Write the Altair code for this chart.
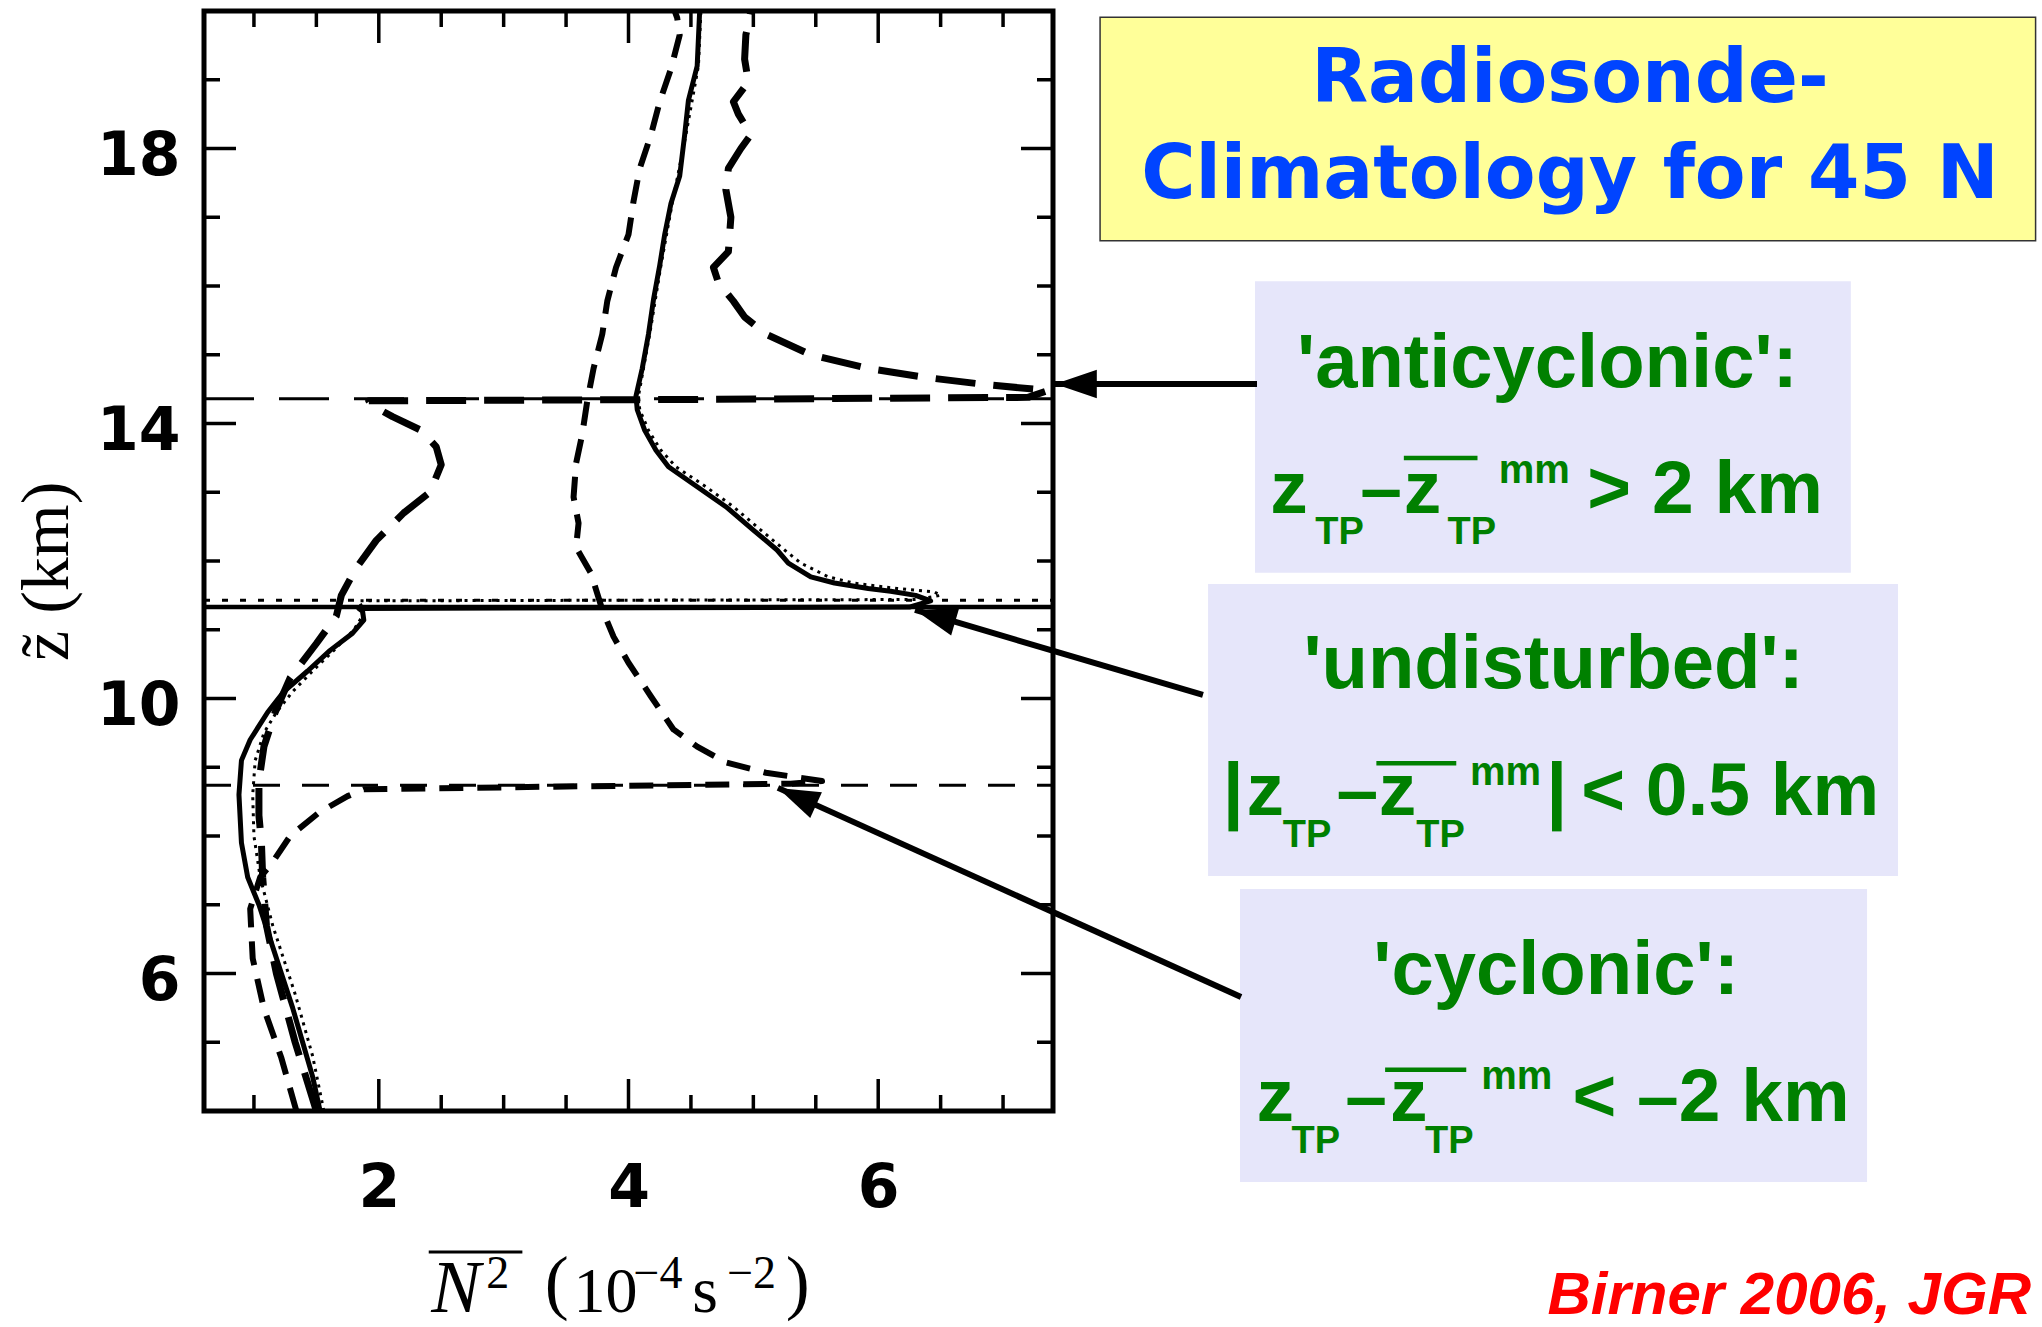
import altair as alt
import pandas as pd

# ---------------- profile data (z in km, N^2 in 1e-4 s^-2) ----------------
solid_z = [4.0, 4.5, 5.0, 5.5, 6.0, 6.5, 7.0, 7.4, 7.9, 8.6, 9.1, 9.4, 9.8, 10.1, 10.4, 10.7,
           10.95, 11.14, 11.27, 11.31, 11.33, 11.42, 11.5, 11.56, 11.6, 11.68, 11.77, 11.97,
           12.16, 12.45, 12.79, 13.08, 13.37, 13.61, 13.9, 14.2, 14.4, 14.8, 15.3, 15.8, 16.3,
           16.75, 17.2, 17.6, 18.2, 18.7, 19.2, 20.0]
solid_n = [1.53, 1.47, 1.39, 1.31, 1.22, 1.13, 1.04, 0.95, 0.90, 0.88, 0.90, 0.97, 1.11, 1.24,
           1.43, 1.61, 1.79, 1.88, 1.87, 1.84, 6.25, 6.42, 6.3, 6.1, 5.92, 5.65, 5.46, 5.28,
           5.19, 5.0, 4.78, 4.55, 4.32, 4.22, 4.13, 4.07, 4.06, 4.11, 4.16, 4.2, 4.25, 4.29,
           4.34, 4.41, 4.45, 4.48, 4.55, 4.57]

dotted_z = [4.0, 4.8, 5.7, 6.7, 7.4, 8.0, 8.6, 9.1, 9.5, 9.8, 10.1, 10.4, 10.7, 11.0, 11.2,
            11.35, 11.42, 11.44, 11.5, 11.55, 11.6, 11.68, 11.77, 11.97, 12.16, 12.45, 12.79,
            13.08, 13.37, 13.61, 13.9, 14.2, 14.4, 14.8, 15.3, 16.3, 17.2, 18.2, 19.2, 20.0]
dotted_n = [1.56, 1.47, 1.33, 1.15, 1.05, 1.0, 0.99, 1.01, 1.08, 1.18, 1.31, 1.47, 1.64, 1.8,
            1.87, 1.86, 1.84, 6.3, 6.5, 6.45, 6.15, 5.8, 5.6, 5.38, 5.25, 5.06, 4.84, 4.62,
            4.38, 4.26, 4.16, 4.09, 4.08, 4.12, 4.17, 4.26, 4.35, 4.46, 4.56, 4.58]

anti_z = [4.0, 5.0, 6.0, 6.7, 7.4, 7.9, 8.3, 8.8, 9.3, 9.8, 10.3, 10.8, 11.2, 11.5, 11.9, 12.3,
          12.7, 13.0, 13.4, 13.66, 13.9, 14.1, 14.26, 14.33, 14.35, 14.38, 14.48, 14.57, 14.67,
          14.8, 15.0, 15.3, 15.55, 15.78, 16.05, 16.27, 16.5, 17.0, 17.4, 17.71, 18.0, 18.2,
          18.5, 18.68, 18.97, 19.3, 19.65, 20.0]
anti_n = [1.5, 1.33, 1.18, 1.1, 1.07, 1.06, 1.04, 1.04, 1.08, 1.17, 1.29, 1.5, 1.66, 1.7, 1.82,
          1.98, 2.2, 2.41, 2.5, 2.46, 2.34, 2.11, 1.95, 1.92, 4.5, 7.2, 7.36, 6.84, 6.38, 5.92,
          5.46, 5.1, 4.93, 4.84, 4.72, 4.68, 4.8, 4.82, 4.78, 4.8, 4.9, 4.98, 4.88, 4.84, 4.96,
          4.93, 4.94, 4.98]

cyc_z = [4.0, 4.77, 5.49, 6.22, 6.94, 7.4, 7.62, 8.0, 8.34, 8.58, 8.68, 8.72, 8.76, 8.8, 8.92,
         9.07, 9.3, 9.55, 10.03, 10.52, 10.9, 11.29, 11.82, 12.2, 12.55, 12.93, 13.42, 13.85,
         14.33, 14.8, 15.3, 15.78, 16.27, 16.75, 17.23, 17.71, 18.2, 18.68, 19.16, 19.65,
         19.9, 20.0]
cyc_n = [1.34, 1.22, 1.08, 0.99, 0.97, 1.05, 1.15, 1.29, 1.52, 1.75, 1.88, 3.5, 5.3, 5.55, 5.1,
         4.78, 4.55, 4.36, 4.18, 4.0, 3.88, 3.79, 3.7, 3.58, 3.6, 3.56, 3.58, 3.63, 3.67, 3.72,
         3.79, 3.83, 3.9, 4.0, 4.04, 4.09, 4.18, 4.25, 4.34, 4.41, 4.39, 4.37]

# tropopause heights of the composites (km)
tp_solid = [11.33]
tp_dotted = [11.43]
tp_anti = [14.36]
tp_cyc = [8.74]

x_major = [2, 4, 6]
x_minor = [1.0, 1.5, 2.5, 3.0, 3.5, 4.5, 5.0, 5.5, 6.5, 7.0]
y_major = [6, 10, 14, 18]
y_minor = [5, 7, 8, 9, 11, 12, 13, 15, 16, 17, 19]

# ---------------- layout ----------------
W, H = 849, 1100
xs = alt.Scale(domain=[0.6, 7.4], nice=False, zero=False)
ys = alt.Scale(domain=[4, 20], nice=False, zero=False)

x_axis = alt.Axis(values=x_major, format="d", labelFont="DejaVu Sans", labelFontWeight="bold",
                  labelFontSize=60, labelColor="black", labelPadding=48, ticks=False, tickSize=0,
                  domain=False, grid=False, labelFlush=False, labelOverlap=False)
y_axis = alt.Axis(values=y_major, format="d", labelFont="DejaVu Sans", labelFontWeight="bold",
                  labelFontSize=60, labelColor="black", labelPadding=24, labelOffset=8,
                  ticks=False, tickSize=0, domain=False, grid=False, labelFlush=False,
                  labelOverlap=False)


def X(field):
    return alt.X(field, type="quantitative", scale=xs, axis=x_axis, title=None)


def Y(field):
    return alt.Y(field, type="quantitative", scale=ys, axis=y_axis, title=None)


def curve(z, n, width, dash=None):
    df = pd.DataFrame({"z": z, "n": n, "i": list(range(len(z)))})
    kw = dict(color="black", strokeWidth=width, strokeCap="butt", strokeJoin="round")
    if dash:
        kw["strokeDash"] = dash
    return alt.Chart(df).mark_line(**kw).encode(x=X("n"), y=Y("z"), order=alt.Order("i:Q"))


def hline(z, width, dash=None):
    kw = dict(color="black", strokeWidth=width)
    if dash:
        kw["strokeDash"] = dash
    return alt.Chart(pd.DataFrame({"z": z})).mark_rule(**kw).encode(
        y=Y("z"), x=alt.value(0), x2=alt.value(W))


layers = []
layers.append(curve(solid_z, solid_n, 5))
layers.append(curve(anti_z, anti_n, 7, [40, 18]))
layers.append(curve(cyc_z, cyc_n, 6, [24, 14]))
layers.append(curve(dotted_z, dotted_n, 3, [3, 5]))
layers.append(hline(tp_solid, 4.5))
layers.append(hline(tp_dotted, 3, [6, 12]))
layers.append(hline(tp_anti, 3, [50, 25]))
layers.append(hline(tp_cyc, 3, [27, 22]))

# ticks (inside, all four sides)
for vals, ln in ((x_minor, 16), (x_major, 32)):
    d = pd.DataFrame({"n": vals})
    layers.append(alt.Chart(d).mark_rule(color="black", strokeWidth=3.5).encode(
        x=X("n"), y=alt.value(H), y2=alt.value(H - ln)))
    layers.append(alt.Chart(d).mark_rule(color="black", strokeWidth=3.5).encode(
        x=X("n"), y=alt.value(0), y2=alt.value(ln)))
for vals, ln in ((y_minor, 16), (y_major, 32)):
    d = pd.DataFrame({"z": vals})
    layers.append(alt.Chart(d).mark_rule(color="black", strokeWidth=3.5).encode(
        y=Y("z"), x=alt.value(0), x2=alt.value(ln)))
    layers.append(alt.Chart(d).mark_rule(color="black", strokeWidth=3.5).encode(
        y=Y("z"), x=alt.value(W), x2=alt.value(W - ln)))

# ---------------- annotations (positions in data units, outside the axes) ----------------
title_box = pd.DataFrame({"n": [7.777], "n2": [15.27], "z": [19.91], "z2": [16.66]})
layers.append(alt.Chart(title_box).mark_rect(fill="#ffff99", stroke="#333333", strokeWidth=1.5).encode(
    x=X("n"), x2="n2", y=Y("z"), y2="z2"))
boxes = pd.DataFrame({"n": [9.018, 8.642, 8.898], "n2": [13.79, 14.168, 13.92],
                      "z": [16.07, 11.666, 7.23], "z2": [11.83, 7.418, 2.968]})
layers.append(alt.Chart(boxes).mark_rect(fill="#e6e6fa").encode(
    x=X("n"), x2="n2", y=Y("z"), y2="z2"))

title_txt = pd.DataFrame({"t": ["Radiosonde-", "Climatology for 45 N"], "n": [11.54, 11.54],
                          "z": [18.68, 17.28]})
layers.append(alt.Chart(title_txt).mark_text(font="DejaVu Sans", fontWeight="bold", fontSize=74,
                                             color="#0044ff", align="center", baseline="alphabetic").encode(
    x=X("n"), y=Y("z"), text="t:N"))

heads = pd.DataFrame({"t": ["'anticyclonic':", "'undisturbed':", "'cyclonic':"],
                      "n": [11.36, 11.41, 11.43], "z": [14.53, 10.15, 5.70]})
layers.append(alt.Chart(heads).mark_text(font="Liberation Sans", fontWeight="bold", fontSize=76,
                                         color="#008000", align="center", baseline="alphabetic").encode(
    x=X("n"), y=Y("z"), text="t:N"))

pieces = pd.DataFrame([
    ("z", 9.14, 12.70, 75), ("TP", 9.50, 12.25, 38), ("\u2013", 9.86, 12.70, 75),
    ("z", 10.21, 12.70, 75), ("TP", 10.56, 12.25, 38), ("mm", 10.97, 13.13, 40),
    ("> 2 km", 11.68, 12.70, 75),
    ("|", 8.76, 8.31, 75), ("z", 8.95, 8.31, 75), ("TP", 9.24, 7.84, 38),
    ("\u2013", 9.67, 8.31, 75), ("z", 10.01, 8.31, 75), ("TP", 10.31, 7.84, 38),
    ("mm", 10.74, 8.74, 40), ("|", 11.35, 8.31, 75), ("< 0.5 km", 11.63, 8.31, 75),
    ("z", 9.03, 3.855, 75), ("TP", 9.31, 3.39, 38), ("\u2013", 9.74, 3.855, 75),
    ("z", 10.10, 3.855, 75), ("TP", 10.38, 3.39, 38), ("mm", 10.83, 4.32, 40),
    ("< \u20132 km", 11.56, 3.855, 75),
], columns=["t", "n", "z", "fs"])
layers.append(alt.Chart(pieces).mark_text(font="Liberation Sans", fontWeight="bold", color="#008000",
                                          align="left", baseline="alphabetic").encode(
    x=X("n"), y=Y("z"), text="t:N", size=alt.Size("fs:Q", scale=None, legend=None)))

overlines = pd.DataFrame({"n": [10.21, 9.99, 10.06], "n2": [10.80, 10.63, 10.71],
                          "z": [13.50, 9.06, 4.60]})
layers.append(alt.Chart(overlines).mark_rule(color="#008000", strokeWidth=4.5).encode(
    x=X("n"), x2="n2", y=Y("z")))

# arrows
arrows = pd.DataFrame({"n": [9.034, 8.601, 8.906], "z": [14.575, 10.051, 5.659],
                       "n2": [7.416, 6.295, 5.197], "z2": [14.575, 11.288, 8.70],
                       "ang": [0.0, 16.4, 24.3]})
layers.append(alt.Chart(arrows).mark_rule(color="black", strokeWidth=6).encode(
    x=X("n"), y=Y("z"), x2="n2", y2="z2"))
layers.append(alt.Chart(arrows).mark_point(shape="M0,0L1,-0.34L1,0.34Z", filled=True, color="black",
                                           opacity=1, size=7000, strokeWidth=0).encode(
    x=X("n2"), y=Y("z2"), angle=alt.Angle("ang:Q", scale=None)))

# axis titles
xt = pd.DataFrame([("(", 3.33, 1.16, 72), ("10", 3.56, 1.08, 64), ("\u22124", 4.04, 1.43, 46),
                   ("s", 4.51, 1.08, 66), ("\u22122", 4.79, 1.43, 46), (")", 5.26, 1.16, 72),
                   ("2", 2.86, 1.43, 46)], columns=["t", "n", "z", "fs"])
layers.append(alt.Chart(xt).mark_text(font="Liberation Serif", color="black", align="left",
                                      baseline="alphabetic").encode(
    x=X("n"), y=Y("z"), text="t:N", size=alt.Size("fs:Q", scale=None, legend=None)))
layers.append(alt.Chart(pd.DataFrame({"t": ["N"], "n": [2.42], "z": [1.08]})).mark_text(
    font="Liberation Serif", fontStyle="italic", fontSize=74, color="black", align="left",
    baseline="alphabetic").encode(x=X("n"), y=Y("z"), text="t:N"))
layers.append(alt.Chart(pd.DataFrame({"n": [2.40], "n2": [3.15], "z": [1.95]})).mark_rule(
    color="black", strokeWidth=3).encode(x=X("n"), x2="n2", y=Y("z")))
layers.append(alt.Chart(pd.DataFrame({"t": ["z\u0303 (km)"], "n": [-0.49], "z": [11.85]})).mark_text(
    font="Liberation Serif", fontSize=68, color="black", align="center", baseline="alphabetic",
    angle=270).encode(x=X("n"), y=Y("z"), text="t:N"))

# citation
layers.append(alt.Chart(pd.DataFrame({"t": ["Birner 2006, JGR"], "n": [11.36], "z": [1.05]})).mark_text(
    font="Liberation Sans", fontWeight="bold", fontStyle="italic", fontSize=60, color="#ff0000",
    align="left", baseline="alphabetic").encode(x=X("n"), y=Y("z"), text="t:N"))

chart = alt.layer(*layers).properties(
    width=W, height=H,
    padding={"left": 204, "top": 11, "right": 989, "bottom": 216},
    autosize=alt.AutoSizeParams(type="none"),
    background="white",
).configure_view(stroke="black", strokeWidth=5)

chart.save("out.html", embed_options={"renderer": "svg", "actions": False})
